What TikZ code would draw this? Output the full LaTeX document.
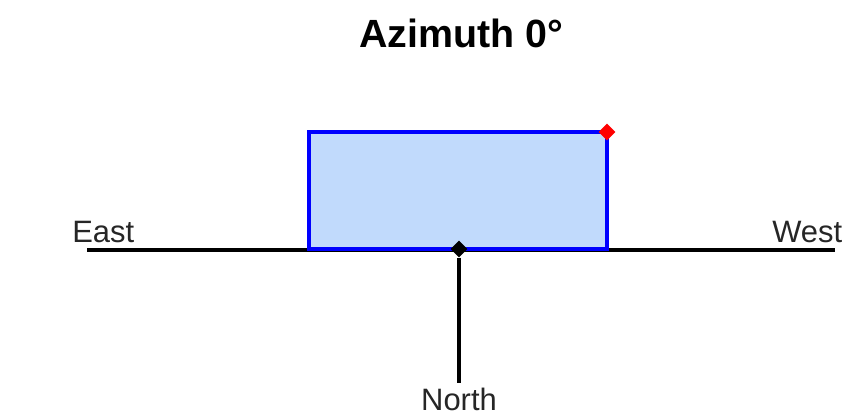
\documentclass[tikz,border=0pt]{standalone}
\usepackage{fontspec}
\setmainfont{Liberation Sans}
\usetikzlibrary{shapes.geometric}
\definecolor{boxfill}{RGB}{193,218,252}
\tikzset{
  dirlabel/.style={font=\fontsize{22}{26}\selectfont, text=black!85},
  pin dot/.style={diamond, inner sep=0pt, minimum size=0.42cm},
}

\begin{document}
\begin{tikzpicture}[x=0.025cm, y=-0.025cm]
\useasboundingbox (0,0) rectangle (843,420);

% Title
\node (title) at (461,33) {\fontsize{28}{33}\selectfont\bfseries Azimuth 0\textdegree};

% Ground line (East -- West)
\coordinate (eastend) at (87,250);
\coordinate (westend) at (835,250);
\draw[line width=2.2pt] (eastend) -- (westend);
\node[dirlabel, anchor=south west, inner sep=0pt] (east) at (72,243) {East};
\node[dirlabel, anchor=south west, inner sep=0pt] (west) at (772,243) {West};

% Building outline
\draw[blue, line width=2.2pt, fill=boxfill] (309,249) rectangle (607,132);

% Marker points
\node[pin dot, fill=red] (corner) at (607,132) {};
\node[pin dot, fill=black] (centre) at (459,249) {};

% North direction
\coordinate (northend) at (459,383);
\draw[line width=2.2pt] (centre) -- (northend);
\node[dirlabel, anchor=north, inner sep=0pt] (north) at (459,388) {North};
\end{tikzpicture}
\end{document}
